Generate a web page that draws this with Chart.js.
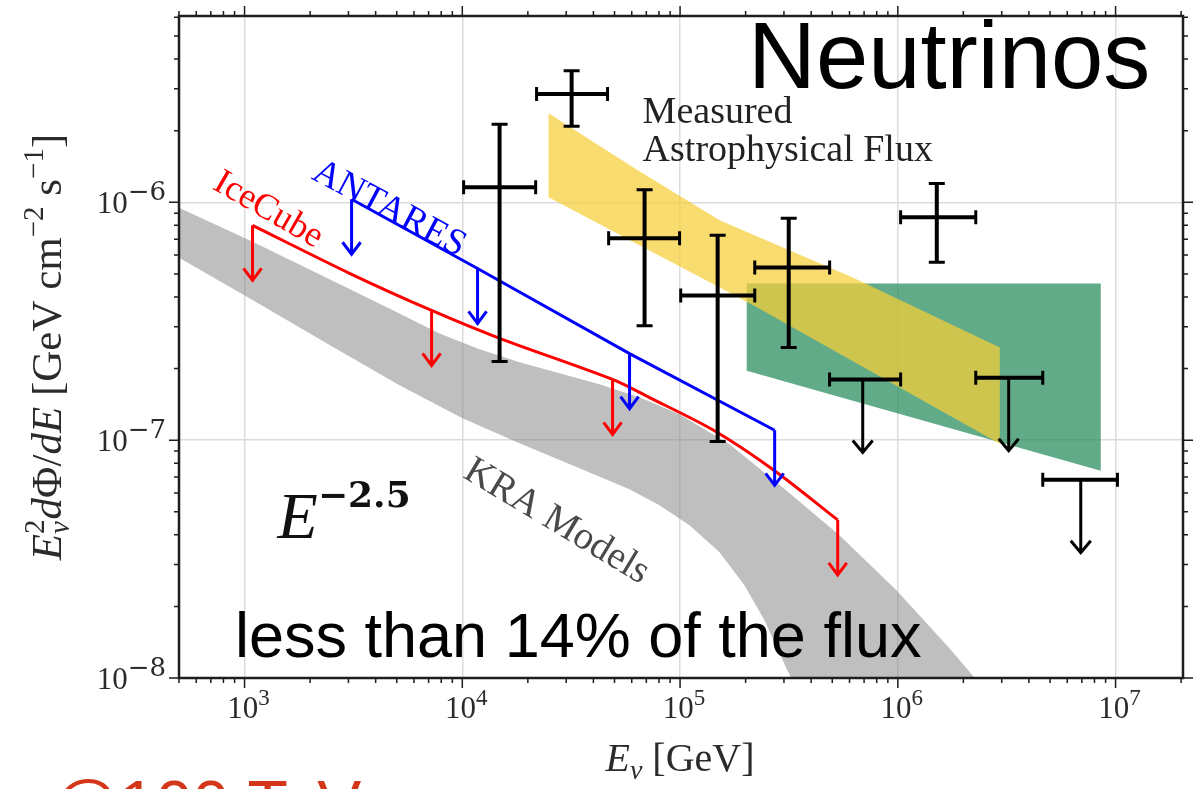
<!DOCTYPE html>
<html>
<head>
<meta charset="utf-8">
<script src="https://cdn.jsdelivr.net/npm/chart.js@4.4.1/dist/chart.umd.min.js"></script>
<style>
  html, body { margin: 0; padding: 0; background: #fff; }
  #wrap { width: 1195px; height: 789px; position: relative; }
</style>
</head>
<body>
<div id="wrap"><canvas id="c" width="1195" height="789"></canvas></div>
<script>
// energies in GeV, fluxes are E^2 dPhi/dE in GeV cm^-2 s^-1

// KRA models band (upper and lower edge)
const kraUpE = [452.6, 1054, 2457, 5148, 7860, 11990, 18300, 27950, 42650, 65100, 99360, 168600, 295300, 539500, 985400, 1.726e6, 2.634e6];
const kraUpF = [9.90e-7, 6.92e-7, 4.75e-7, 3.41e-7, 2.81e-7, 2.41e-7, 2.125e-7, 1.91e-7, 1.718e-7, 1.515e-7, 1.285e-7, 9.61e-8, 6.34e-8, 3.98e-8, 2.34e-8, 1.335e-8, 8.47e-9];
const kraLoE = [452.6, 1054, 2457, 5148, 10020, 18300, 34520, 58560, 80420, 110500, 151700, 197600, 244100, 307900, 353300];
const kraLoF = [6.16e-7, 3.95e-7, 2.51e-7, 1.70e-7, 1.236e-7, 9.70e-8, 7.62e-8, 6.22e-8, 5.33e-8, 4.39e-8, 3.38e-8, 2.455e-8, 1.75e-8, 1.099e-8, 8.47e-9];

// IceCube upper limit curve + arrows
const iceE = [1088, 3034, 7227, 14830, 48980, 72400, 142600, 271600, 529600];
const iceF = [8.0e-7, 5.03e-7, 3.51e-7, 2.68e-7, 1.80e-7, 1.51e-7, 1.10e-7, 7.44e-8, 4.62e-8];
const iceArrowE = [1088, 7227, 48980, 529600];
const iceArrowF = [8.0e-7, 3.51e-7, 1.80e-7, 4.62e-8];

// ANTARES upper limit
const antE = [3101, 11750, 58620, 271900];
const antF = [1.03e-6, 5.27e-7, 2.31e-7, 1.10e-7];

// measured astrophysical flux (yellow band)
const astroUpE = [24890, 61800, 152000, 620700, 2.94e6];
const astroUpF = [2.37e-6, 1.39e-6, 8.40e-7, 4.83e-7, 2.45e-7];
const astroLoE = [24890, 215800, 2.94e6];
const astroLoF = [1.05e-6, 3.7e-7, 9.66e-8];

// green box
const boxE = [202300, 8.55e6, 8.55e6, 202300];
const boxF = [4.56e-7, 4.56e-7, 7.44e-8, 1.96e-7];

// data points with error bars
const ptE   = [14830, 31770, 68710, 148800, 315500, 1.51e6];
const ptElo = [10140, 21930, 46990, 100700, 220300, 1.03e6];
const ptEhi = [21720, 46450, 99500, 220300, 486300, 2.28e6];
const ptF   = [1.157e-6, 2.85e-6, 7.06e-7, 4.06e-7, 5.32e-7, 8.65e-7];
const ptFlo = [2.14e-7, 2.09e-6, 3.03e-7, 9.86e-8, 2.45e-7, 5.59e-7];
const ptFhi = [2.13e-6, 3.57e-6, 1.13e-6, 7.26e-7, 8.57e-7, 1.20e-6];

// upper limits (black)
const limE   = [6.90e5, 3.23e6, 6.92e6];
const limElo = [4.86e5, 2.28e6, 4.63e6];
const limEhi = [1.03e6, 4.63e6, 1.02e7];
const limF   = [1.80e-7, 1.83e-7, 6.82e-8];

const xTickExp = [3, 4, 5, 6, 7];
const yTickExp = [-8, -7, -6];

const SERIF = "'Liberation Serif', 'DejaVu Serif', serif";
const SANS = "'Liberation Sans', Arial, sans-serif";

const pts = (xs, ys) => xs.map((x, i) => ({ x: x, y: ys[i] }));
const isDecade = v => Math.abs(Math.log10(v) - Math.round(Math.log10(v))) < 1e-6;

function logTicks(min, max) {
  const out = [];
  for (let e = Math.floor(Math.log10(min)); e <= Math.ceil(Math.log10(max)); e++) {
    for (let k = 1; k <= 9; k++) {
      const v = k * Math.pow(10, e);
      if (v >= min * 0.999999 && v <= max * 1.000001) out.push({ value: v });
    }
  }
  return out;
}

function fontOf(p) {
  return (p.it ? 'italic ' : '') + (p.b ? 'bold ' : '') + p.sz + 'px ' + (p.fam || SERIF);
}

// rich text: parts {t, sz, it, b, dy, over}
function drawRich(ctx, parts, x0, y0, align) {
  let x = 0, lastStart = 0;
  const laid = [];
  for (const p of parts) {
    ctx.font = fontOf(p);
    const w = ctx.measureText(p.t).width;
    const sx = p.over ? lastStart : x;
    laid.push({ p, sx });
    if (p.over) x = Math.max(x, sx + w);
    else { lastStart = sx; x = sx + w; }
  }
  let off = 0;
  if (align === 'center') off = -x / 2;
  if (align === 'right') off = -x;
  for (const l of laid) {
    ctx.font = fontOf(l.p);
    ctx.fillText(l.p.t, x0 + off + l.sx, y0 + (l.p.dy || 0));
  }
  return x;
}

function arrowDown(ctx, X, Y, len, hw, hh) {
  ctx.beginPath();
  ctx.moveTo(X, Y);
  ctx.lineTo(X, Y + len);
  ctx.moveTo(X - hw, Y + len - hh);
  ctx.lineTo(X, Y + len);
  ctx.lineTo(X + hw, Y + len - hh);
  ctx.stroke();
}

const decor = {
  id: 'decor',
  afterDatasetsDraw(chart) {
    const { ctx, chartArea: a } = chart;
    const xs = chart.scales.x, ys = chart.scales.y;
    const X = v => xs.getPixelForValue(v), Y = v => ys.getPixelForValue(v);
    ctx.save();
    ctx.lineCap = 'butt';
    ctx.lineJoin = 'miter';

    // upper limit arrows on the curves
    ctx.lineWidth = 3;
    ctx.strokeStyle = '#ff0000';
    iceArrowE.forEach((e, i) => arrowDown(ctx, X(e), Y(iceArrowF[i]), 55, 9, 12));
    ctx.strokeStyle = '#0000ff';
    antE.forEach((e, i) => arrowDown(ctx, X(e), Y(antF[i]), 55, 9, 12));

    // data points
    ctx.strokeStyle = '#000';
    ptE.forEach((e, i) => {
      const cx = X(e), cy = Y(ptF[i]);
      const x1 = X(ptElo[i]), x2 = X(ptEhi[i]);
      const y1 = Y(ptFhi[i]), y2 = Y(ptFlo[i]);
      ctx.lineWidth = 4;
      ctx.beginPath();
      ctx.moveTo(x1, cy); ctx.lineTo(x2, cy);
      ctx.moveTo(cx, y1); ctx.lineTo(cx, y2);
      ctx.stroke();
      ctx.lineWidth = 3;
      ctx.beginPath();
      ctx.moveTo(x1, cy - 7); ctx.lineTo(x1, cy + 7);
      ctx.moveTo(x2, cy - 7); ctx.lineTo(x2, cy + 7);
      ctx.moveTo(cx - 8, y1); ctx.lineTo(cx + 8, y1);
      ctx.moveTo(cx - 8, y2); ctx.lineTo(cx + 8, y2);
      ctx.stroke();
    });
    limE.forEach((e, i) => {
      const cx = X(e), cy = Y(limF[i]);
      const x1 = X(limElo[i]), x2 = X(limEhi[i]);
      ctx.lineWidth = 4;
      ctx.beginPath();
      ctx.moveTo(x1, cy); ctx.lineTo(x2, cy);
      ctx.stroke();
      ctx.lineWidth = 3;
      ctx.beginPath();
      ctx.moveTo(x1, cy - 7); ctx.lineTo(x1, cy + 7);
      ctx.moveTo(x2, cy - 7); ctx.lineTo(x2, cy + 7);
      ctx.stroke();
      arrowDown(ctx, cx, cy, 73, 10, 12);
    });

    // frame and ticks on all four sides
    ctx.strokeStyle = '#1e1e1e';
    ctx.lineWidth = 2.5;
    ctx.strokeRect(a.left, a.top, a.right - a.left, a.bottom - a.top);
    ctx.lineWidth = 1.5;
    ctx.beginPath();
    xs.ticks.forEach(t => {
      const p = X(t.value), L = isDecade(t.value) ? 10 : 5;
      ctx.moveTo(p, a.bottom); ctx.lineTo(p, a.bottom + L);
      ctx.moveTo(p, a.top); ctx.lineTo(p, a.top - L);
    });
    ys.ticks.forEach(t => {
      const p = Y(t.value), L = isDecade(t.value) ? 10 : 5;
      ctx.moveTo(a.left, p); ctx.lineTo(a.left - L, p);
      ctx.moveTo(a.right, p); ctx.lineTo(a.right + L, p);
    });
    ctx.stroke();

    // tick labels
    ctx.fillStyle = '#2b2b2b';
    ctx.textBaseline = 'alphabetic';
    xTickExp.forEach(n => {
      drawRich(ctx, [
        { t: '10', sz: 31 },
        { t: String(n), sz: 23, dy: -13 }
      ], X(Math.pow(10, n)) + 4, a.bottom + 40, 'center');
    });
    yTickExp.forEach(n => {
      drawRich(ctx, [
        { t: '10', sz: 31 },
        { t: '\u2212' + Math.abs(n), sz: 26, dy: -13, fam: "'DejaVu Serif', serif" }
      ], 166, Y(Math.pow(10, n)) + 11, 'right');
    });

    // axis titles
    ctx.fillStyle = '#2b2b2b';
    drawRich(ctx, [
      { t: 'E', sz: 40, it: true },
      { t: '\u03bd', sz: 28, it: true, dy: 8 },
      { t: ' [GeV]', sz: 40 }
    ], 680, 771, 'center');
    ctx.save();
    ctx.translate(61, 347);
    ctx.rotate(-Math.PI / 2);
    drawRich(ctx, [
      { t: 'E', sz: 43, it: true },
      { t: '2', sz: 29, dy: -17 },
      { t: '\u03bd', sz: 29, it: true, dy: 8, over: true },
      { t: 'd', sz: 43, it: true },
      { t: '\u03a6', sz: 43 },
      { t: '/', sz: 43 },
      { t: 'dE', sz: 43, it: true },
      { t: ' [GeV cm', sz: 43 },
      { t: '\u22122', sz: 29, dy: -18 },
      { t: ' s', sz: 43 },
      { t: '\u22121', sz: 29, dy: -18 },
      { t: ']', sz: 43 }
    ], 0, 0, 'center');
    ctx.restore();

    // annotations anchored in data coordinates
    const rotText = (txt, e, f, deg, font, color) => {
      ctx.save();
      ctx.translate(X(e), Y(f));
      ctx.rotate(deg * Math.PI / 180);
      ctx.font = font;
      ctx.fillStyle = color;
      ctx.fillText(txt, 0, 0);
      ctx.restore();
    };
    rotText('IceCube', 705, 1.145e-6, 30, '36px ' + SERIF, '#ff0000');
    rotText('ANTARES', 2010, 1.262e-6, 28, '37px ' + SERIF, '#0000ff');
    rotText('KRA Models', 9930, 7.02e-8, 31, '39px ' + SERIF, '#4a4a4a');

    ctx.fillStyle = '#222';
    ctx.font = '38px ' + SERIF;
    ctx.fillText('Measured', X(67300), Y(2.15e-6));
    ctx.fillText('Astrophysical Flux', X(67300), Y(2.15e-6) + 38);

    ctx.fillStyle = '#111';
    drawRich(ctx, [
      { t: 'E', sz: 66, it: true },
      { t: '\u22122.5', sz: 36, b: true, dy: -31, fam: "'DejaVu Serif', serif" }
    ], X(1418), Y(3.88e-8), 'left');

    // slide overlays
    ctx.fillStyle = '#000';
    ctx.font = '94px ' + SANS;
    ctx.fillText('Neutrinos', 748, 88);
    ctx.font = '63px ' + SANS;
    ctx.fillText('less than 14% of the flux', 235, 657);
    ctx.fillStyle = '#d4361a';
    ctx.font = '66px ' + SANS;
    ctx.fillText('@100 TeV', 52, 827);

    ctx.restore();
  }
};

const bandStyle = (color, order) => ({
  showLine: true, fill: 'shape', backgroundColor: color,
  borderColor: 'rgba(0,0,0,0)', borderWidth: 0, pointRadius: 0, order: order
});

new Chart(document.getElementById('c'), {
  type: 'scatter',
  data: {
    datasets: [
      Object.assign({ label: 'KRA models', data: pts(kraUpE.concat(kraLoE.slice().reverse()), kraUpF.concat(kraLoF.slice().reverse())), tension: 0 }, bandStyle('rgba(128,128,128,0.5)', 6)),
      Object.assign({ label: 'box', data: pts(boxE, boxF), tension: 0 }, bandStyle('rgba(46,143,98,0.75)', 5)),
      Object.assign({ label: 'Measured astrophysical flux', data: pts(astroUpE.concat(astroLoE.slice().reverse()), astroUpF.concat(astroLoF.slice().reverse())), tension: 0 }, bandStyle('rgba(247,206,55,0.72)', 4)),
      { label: 'IceCube', data: pts(iceE, iceF), showLine: true, borderColor: '#ff0000', borderWidth: 3, pointRadius: 0, tension: 0.3, fill: false, order: 3 },
      { label: 'ANTARES', data: pts(antE, antF), showLine: true, borderColor: '#0000ff', borderWidth: 3, pointRadius: 0, tension: 0, fill: false, order: 2 },
      { label: 'points', data: pts(ptE, ptF), pointRadius: 0, order: 1 },
      { label: 'limits', data: pts(limE, limF), pointRadius: 0, order: 0 }
    ]
  },
  options: {
    responsive: false,
    animation: false,
    devicePixelRatio: 1,
    layout: { padding: { top: 16, right: 12, left: 0, bottom: 0 } },
    plugins: { legend: { display: false }, tooltip: { enabled: false } },
    scales: {
      x: {
        type: 'logarithmic', min: 500, max: 2.04e7,
        afterBuildTicks: s => { s.ticks = logTicks(s.min, s.max); },
        afterFit: s => { s.height = 111; },
        ticks: { display: false },
        border: { display: false },
        grid: { color: c => (c.tick && isDecade(c.tick.value)) ? '#dcdcdc' : 'rgba(0,0,0,0)', lineWidth: 1.5, drawTicks: false }
      },
      y: {
        type: 'logarithmic', min: 1e-8, max: 6.07e-6,
        afterBuildTicks: s => { s.ticks = logTicks(s.min, s.max); },
        afterFit: s => { s.width = 179; },
        ticks: { display: false },
        border: { display: false },
        grid: { color: c => (c.tick && isDecade(c.tick.value)) ? '#dcdcdc' : 'rgba(0,0,0,0)', lineWidth: 1.5, drawTicks: false }
      }
    }
  },
  plugins: [decor]
});
</script>
</body>
</html>
